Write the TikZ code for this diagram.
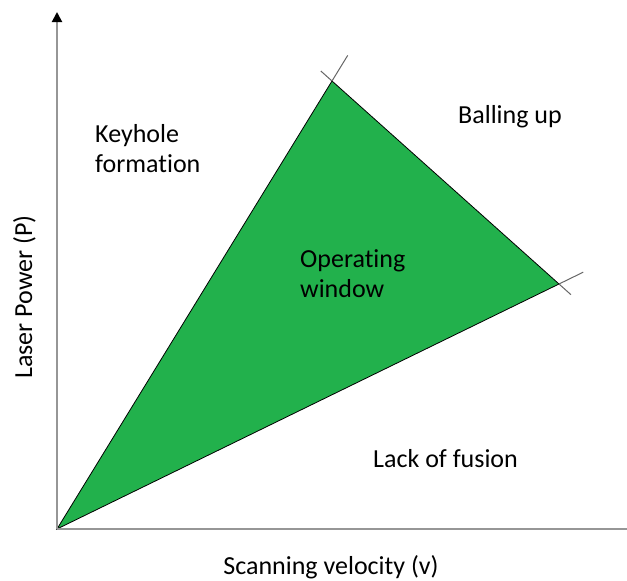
\documentclass[tikz,border=0pt]{standalone}
\usepackage{fontspec}
\setmainfont{Carlito}[Ligatures=NoCommon]
\usetikzlibrary{arrows.meta,calc}
\definecolor{winGreen}{HTML}{22B14C}
\definecolor{axisGray}{HTML}{969696}
\definecolor{extGray}{HTML}{666666}
\begin{document}
\begin{tikzpicture}[x=1pt,y=-1pt,
  lbl/.style={inner sep=0pt, font=\fontsize{26}{30}\selectfont, align=left},
  axisline/.style={draw=axisGray, line width=2pt},
  extline/.style={draw=extGray, line width=1pt}]
\useasboundingbox (0,0) rectangle (627,581);
% key points
\coordinate (O) at (57,529);
\coordinate (T) at (332,81);
\coordinate (R) at (559,284);
\coordinate (Ytop) at (57,12);
\coordinate (Xend) at (627,529);
% triangle
\fill[winGreen] (O) -- (T) -- (R) -- cycle;
\draw[black, line width=0.8pt] (O) -- (T) -- (R) -- cycle;
% extensions
\draw[extline] (T) -- ($(T)!-30pt!(O)$);
\draw[extline] (T) -- ($(T)!-15pt!(R)$);
\draw[extline] (R) -- ($(R)!-27pt!(O)$);
\draw[extline] (R) -- ($(R)!-16pt!(T)$);
% axes
\draw[axisline] (O) -- (Xend);
\draw[axisline, -{Triangle[length=10pt,width=10pt,fill=black,color=black]}] (O) -- (Ytop);
% labels
\node[lbl, anchor=base west] (keyhole) at (95,172) {Keyhole\\formation};
\node[lbl, anchor=base west] (balling) at (458,123) {Balling up};
\node[lbl, anchor=base west] (opwin) at (300,297) {Operating\\window};
\node[lbl, anchor=base west] (lack) at (373,467) {Lack of fusion};
\node[lbl, anchor=base] (xlab) at (331,574) {Scanning velocity (v)};
\node[lbl, anchor=base, rotate=90] (ylab) at (32,297) {Laser Power (P)};
\end{tikzpicture}
\end{document}
